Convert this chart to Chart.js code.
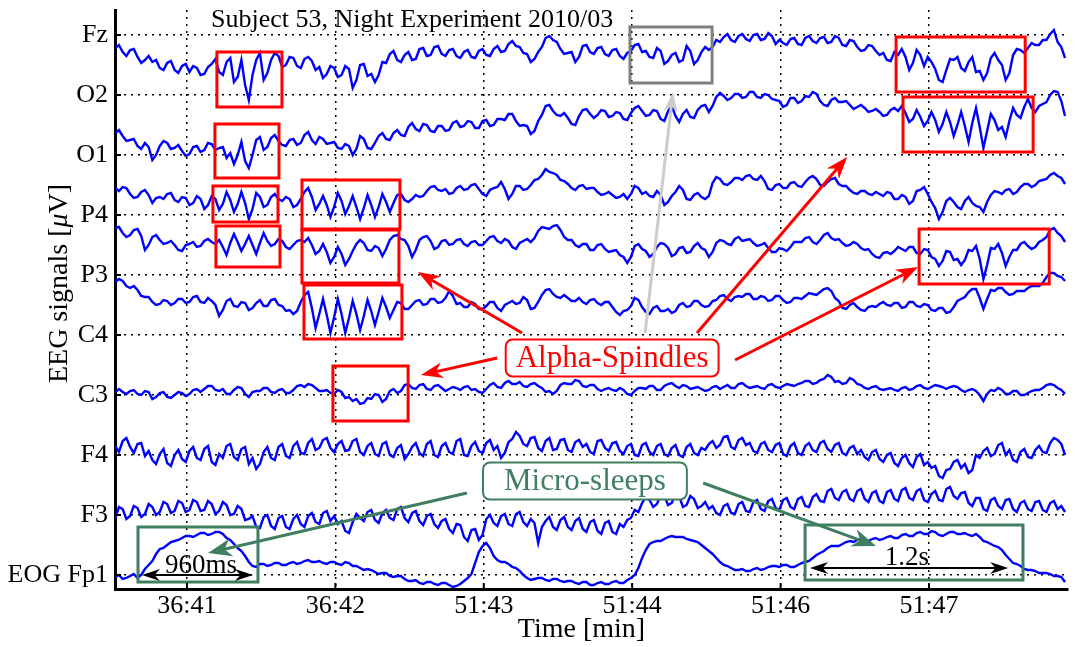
<!DOCTYPE html>
<html>
<head>
<meta charset="utf-8">
<script src="https://cdn.jsdelivr.net/npm/chart.js@4.4.0/dist/chart.umd.min.js"></script>
<style>
  html, body { margin: 0; padding: 0; background: #fff; }
</style>
</head>
<body>
<canvas id="eeg" width="1075" height="647"></canvas>
<script>
// Canais (de cima para baixo) e posição de cada um no eixo vertical
const canais = ['Fz', 'O2', 'O1', 'P4', 'P3', 'C4', 'C3', 'F4', 'F3', 'EOG Fp1'];
const posCanais = [540, 480, 420, 360, 300, 240, 180, 120, 60, 0];

// Rótulos do tempo (um a cada 60 s no eixo)
const rotulosTempo = ['36:41', '36:42', '51:43', '51:44', '51:46', '51:47'];
const posTempo = [0, 60, 120, 180, 240, 300];

// primeira amostra e passo (s)
const T0 = -29;
const DT = 1.5;

// Sinais (µV, relativos à linha de base de cada traço)
const sigFz = [7,10,3,-1,5,6,-2,-8,-5,-1, -7,-5,-13,-15,-8,-6,-15,-18,-11,-9,
  -17,-11,-13,-20,-19,-12,-9,-4,-17,-20, -7,-3,-27,-22,-5,-30,-45,-20,-5,2,
  -25,-18,-5,2,-1,-12,-10,-2,-3,-11, -13,-4,-2,-6,-15,-12,-23,-19,-11,-13,
  -22,-20,-11,-14,-33,-25,-10,-9,-21,-19, -27,-20,-7,-8,1,4,-5,-7,0,3,
  -5,-4,6,7,-1,0,8,9,1,-1, 5,6,-1,-3,3,5,-2,-3,4,6,
  0,-1,6,9,3,4,11,14,9,8, 2,1,-7,-4,3,8,17,19,15,13,
  6,1,2,3,-7,-2,9,10,3,1, 7,8,1,-1,5,6,-1,-4,2,4,
  10,11,3,4,-2,-3,7,4,-9,-6, 0,2,-7,-5,9,4,-9,-5,3,8,
  5,8,15,13,18,21,15,13,19,21, 16,14,20,21,15,16,22,19,11,15,
  12,10,16,17,11,10,17,19,14,12, 17,18,12,13,19,17,10,9,15,14,
  8,4,5,10,9,4,0,2,-5,-6, 3,0,6,-2,-15,-8,5,0,-11,-2,
  -7,-14,-25,-27,-15,-4,-5,-2,-13,-16, -7,-2,-17,-16,-25,-18,-3,2,-5,-10,
  -25,-18,0,6,5,2,7,12,10,10, 15,15,21,25,13,8,-3];
const sigO2 = [-8,-5,-11,-16,-15,-14,-21,-24,-18,-22, -35,-30,-21,-16,-18,-24,-23,-20,-26,-31,
  -29,-22,-21,-27,-25,-18,-19,-25,-23,-22, -33,-28,-39,-30,-17,-36,-43,-30,-15,-12,
  -25,-22,-13,-10,-16,-20,-21,-15,-14,-20, -18,-10,-7,-15,-19,-12,-14,-19,-18,-17,
  -23,-24,-19,-21,-30,-24,-11,-14,-23,-24, -18,-11,-8,-14,-15,-8,-5,-10,-11,-2,
  2,-4,-6,1,0,-6,-7,-1,-1,-6, -5,2,4,-2,-1,4,3,-3,-3,4,
  5,-1,0,6,6,5,11,11,4,-1, 0,-1,-9,-6,4,10,19,20,14,10,
  9,12,7,1,0,9,15,16,11,7, 10,15,14,8,9,13,12,6,5,12,
  17,19,14,9,10,15,14,6,4,14, 19,9,3,11,15,8,7,15,19,20,
  13,19,28,32,29,25,27,31,31,27, 28,33,33,28,27,31,30,26,25,24,
  18,20,27,27,22,24,29,28,33,31, 24,20,19,25,27,23,23,24,20,16,
  18,20,17,13,14,16,13,9,10,15, 17,14,19,12,3,6,15,8,-1,4,
  13,5,-7,1,13,3,-11,0,13,-1, -17,2,17,-2,-23,-6,11,5,-5,-2,
  -12,4,17,10,7,18,26,17,13,19, 21,23,30,34,33,24,9];
const sigO1 = [7,4,8,7,1,-3,-2,3,5,0, -8,-3,-2,-4,1,2,-5,-7,-2,-3,
  -10,-8,-1,-4,-14,-10,-1,-4,-15,-9, 3,-5,-17,-9,3,-8,-24,-14,2,-2,
  -12,-10,-2,1,-4,-6,-2,-4,-12,-10, -4,3,7,-2,-15,-9,-1,-10,-22,-12,
  2,-6,-19,-11,-1,-12,-24,-13,0,-10, -22,-12,1,-7,-17,-8,0,1,-5,-7,
  -4,0,-2,-1,4,8,9,5,4,6, 1,2,7,9,5,6,10,11,6,1,
  -1,5,7,8,13,6,-4,1,9,9, 5,6,10,15,16,20,26,23,22,20,
  15,14,11,7,5,9,10,6,7,7, 3,0,1,3,0,-3,-2,1,-4,1,
  9,7,1,3,-1,-2,4,0,-10,-7, -1,3,9,5,-4,-5,0,2,-2,-4,
  -1,12,18,16,11,10,13,17,17,15, 19,20,16,15,19,14,6,5,10,11,
  7,7,12,13,9,8,13,17,19,16, 10,9,13,16,17,11,9,9,5,2,
  1,4,4,1,0,3,1,-1,3,2, -4,-4,0,-2,-9,-6,4,5,8,1,
  -7,-13,-24,-17,-6,-3,-7,-12,-14,-6, -2,-8,-11,-12,-17,-7,0,4,3,1,
  5,6,1,3,8,11,11,8,10,14, 15,16,20,22,19,17,11];
const sigP4 = [17,18,12,8,10,15,16,9,-5,0, 8,10,5,1,2,4,0,-5,-6,0,
  1,3,-2,-1,4,6,3,1,5,-2, -10,2,11,3,-6,1,9,0,-9,2,
  12,4,-1,1,6,4,-2,-4,0,4, 5,3,7,0,-9,-6,1,-7,-18,-12,
  -2,-9,-20,-14,-6,1,5,2,-5,-6, -1,-3,-11,-4,5,9,10,6,5,-1,
  -12,-5,5,8,9,4,-4,-2,4,5, 0,1,5,6,1,-1,3,4,0,0,
  4,8,9,4,2,6,4,-2,-4,2, 4,6,3,7,14,18,17,16,19,20,
  15,8,5,5,0,-2,1,1,-5,-5, 0,1,-4,-7,-6,-5,-10,-12,-18,-12,
  -1,1,-4,-6,-12,-9,-2,2,1,-3, -11,-9,-3,-2,-8,-7,-1,2,-3,-5,
  -12,-7,2,5,4,1,0,6,8,4, 5,6,2,-1,0,2,-3,-7,-7,-3,
  -4,-6,-2,3,3,3,7,8,3,1, 5,10,12,7,5,6,2,-1,0,3,
  1,-3,-5,-4,-9,-12,-13,-8,-7,-9, -6,-2,-4,-6,-2,-2,-8,-9,-4,-5,
  -12,-14,-21,-16,-6,-7,-15,-14,-20,-15, -5,-6,-1,-14,-34,-20,-3,-4,1,-8,
  -21,-12,-5,-5,1,3,-1,-4,-2,3, 5,8,15,17,12,9,3];
const sigP3 = [18,21,19,14,12,14,10,4,3,3, -2,-5,-4,0,-1,-5,-3,1,1,-3,
  -2,3,4,-2,-3,2,-1,-5,-16,-10, -1,1,-6,-7,-2,-3,-10,-8,-3,0,
  -6,-6,0,1,-5,-6,-11,-10,-14,-11, -2,5,8,-8,-28,-14,1,-15,-33,-17,
  1,-14,-33,-18,-1,-14,-30,-16,0,-11, -25,-12,2,-7,-18,-10,-2,-3,-9,-9,
  -5,-1,0,-5,-4,1,1,-3,-2,2, 9,4,-4,-3,-7,-7,-2,-4,-9,-9,
  -6,-2,-2,-8,-11,-5,-3,-1,-4,-3, 3,0,-9,-8,-2,5,10,11,6,3,
  2,5,2,-1,-1,2,-2,-4,0,1, -3,-5,-2,-2,-7,-12,-15,-11,-10,-6,
  2,0,-7,-12,-14,-8,-6,-11,-11,-9, -13,-11,-5,-3,-7,-6,-1,-1,-5,-7,
  -6,-1,0,4,5,1,-1,3,4,3, 6,6,1,1,4,3,-1,0,4,4,
  0,-3,-2,2,2,1,4,7,6,5, 8,11,12,9,2,-1,-8,-9,-5,-3,
  -7,-10,-11,-7,-6,-7,-4,-2,-5,-6, -3,-3,-8,-7,-2,-2,-6,-7,-4,-5,
  -10,-11,-8,-8,-13,-12,-7,-1,1,3, 8,11,11,2,-9,1,10,9,12,12,
  8,5,6,9,9,9,12,14,14,14, 17,23,27,27,24,23,19];
const sigC3 = [3,6,3,1,4,5,1,0,4,3, -4,-2,2,3,-2,-3,0,3,2,-1,
  1,5,6,3,6,9,9,5,4,6, 1,1,5,8,7,1,-2,3,4,4,
  7,7,3,2,5,6,2,2,5,9, 10,8,11,10,7,4,4,5,2,1,
  5,3,-3,-2,-6,-4,-9,-8,-3,-4, 1,0,-7,-4,4,6,2,4,10,11,
  7,6,10,11,6,5,9,10,7,4, 6,8,7,5,8,9,5,6,3,2,
  6,10,12,8,7,12,14,11,11,13, 9,8,11,12,9,7,3,4,1,4,
  10,12,11,11,15,14,9,8,10,10, 6,4,6,7,5,4,7,5,1,0,
  4,7,7,6,9,9,5,5,9,11, 12,9,7,10,9,6,7,8,6,4,
  5,8,9,6,8,10,7,7,11,12, 9,7,8,9,7,6,10,11,8,7,
  9,11,10,9,11,12,14,14,11,12, 15,16,20,18,13,14,11,12,17,15,
  11,10,7,6,8,9,6,5,6,7, 5,4,7,8,5,6,9,10,7,6,
  8,10,9,8,6,8,9,8,5,3, 5,6,4,0,-6,1,5,4,7,5,
  1,1,4,4,0,0,2,4,5,5, 7,10,11,10,7,5,1];
const sigF4 = [4,-2,9,12,3,-3,6,7,-6,-1, -10,-14,-4,1,-13,-16,-5,0,-9,-12,
  -1,3,-8,-10,1,4,-12,-15,-4,-8, 4,6,-7,-10,1,3,-14,-8,-19,-14,
  -2,3,-8,-10,3,6,-6,-8,4,8, -3,-4,7,11,0,2,10,12,2,-2,
  6,9,-1,0,9,11,-2,-5,4,7, -4,-6,6,8,-5,-7,2,5,-9,-4,
  3,7,-3,-6,6,9,-5,-7,4,7, -2,-4,9,11,-5,-6,4,8,-1,-3,
  7,10,0,4,-8,-3,8,11,18,14, 6,4,12,13,2,-1,9,12,0,1,
  10,11,0,-2,8,10,3,6,-2,-4, 9,10,2,-1,7,8,-1,-4,4,6,
  -5,-6,5,7,-2,-5,4,6,-4,-6, 2,5,-5,-7,3,6,-3,-5,2,0,
  6,9,2,5,13,14,3,1,10,12, 5,7,-1,-3,6,8,0,-2,5,7,
  -4,-6,4,7,-3,-5,4,7,0,-2, 7,9,1,-2,5,7,-3,-5,2,4,
  -4,0,-7,-10,-2,0,-9,-12,-5,-3, -13,-16,-8,-5,-13,-17,-7,-4,-15,-12,
  -18,-16,-26,-28,-20,-19,-12,-10,-18,-14, -23,-20,-5,-8,-1,2,-6,-4,5,7,
  -5,0,-10,-12,-2,1,-7,-8,0,4, -2,-3,7,12,10,6,-5];
const sigF3 = [-3,8,6,-4,-1,9,7,-2,1,11, 8,0,3,13,11,2,4,14,12,3,
  5,15,13,4,5,14,11,1,4,13, 10,0,1,9,6,-5,-4,-1,-12,-13,
  -2,0,-11,-14,-3,-1,-12,-14,-4,0, -9,-12,-1,2,-7,-9,2,4,-6,-1,
  -9,-6,-16,-18,-7,1,-3,-6,3,5, -5,-8,2,5,-3,-5,6,8,-3,-7,
  2,4,-6,-10,-1,1,-9,-13,-6,-4, -14,-18,-9,-10,-22,-26,-15,-14,-25,-20,
  -4,0,-8,-11,-1,1,-9,-11,1,3, -7,-11,-4,-8,-28,-12,-6,-2,-12,-15,
  -5,-2,-12,-15,-6,-3,-14,-17,-7,-5, -16,-19,-8,-6,-17,-19,-9,-12,-5,-3,
  5,3,12,18,15,8,11,20,19,10, 12,21,19,8,10,19,16,7,9,13,
  6,9,2,0,9,11,2,1,11,13, 4,3,13,15,6,4,14,16,7,5,
  15,17,8,6,16,18,9,8,18,21, 14,13,24,26,17,15,23,25,16,14,
  24,26,16,13,22,24,14,12,23,25, 16,14,25,27,17,15,24,26,15,13,
  21,24,15,14,26,28,19,16,22,23, 12,9,17,17,6,4,15,17,9,6,
  15,16,6,3,12,14,6,4,13,14, 5,3,12,14,6,9,3];
const sigEOG = [-2,0,-4,-3,-1,1,-3,0,6,10, 14,21,26,27,30,33,34,35,37,39,
  39,38,40,42,42,40,41,43,43,41, 37,35,31,27,24,19,13,9,8,11,
  11,9,10,12,12,10,10,12,13,11, 12,14,15,13,13,14,12,11,13,13,
  11,10,13,12,9,9,7,5,6,5, 3,1,2,2,-1,-2,-1,-1,-4,-6,
  -6,-5,-8,-9,-7,-7,-9,-10,-8,-8, -10,-12,-11,-9,-6,-3,1,12,23,29,
  32,27,19,15,13,13,11,8,7,4, 0,-3,-5,-4,-3,-3,-5,-6,-4,-4,
  -6,-7,-6,-6,-8,-9,-7,-7,-10,-10, -8,-7,-9,-9,-7,-6,-8,-8,-5,-3,
  0,7,17,25,31,33,34,34,36,38, 39,38,38,38,36,35,34,33,30,27,
  24,21,17,13,10,9,7,5,5,6, 4,4,6,7,5,6,8,9,9,8,
  10,10,8,8,10,12,13,14,17,20, 22,24,27,29,29,29,31,33,34,33,
  35,36,34,34,36,37,35,36,38,39, 37,37,40,41,39,39,42,43,41,41,
  44,43,40,39,41,43,43,41,41,42, 40,39,41,38,34,33,31,29,28,25,
  20,16,12,11,9,6,5,5,4,2, 2,2,1,-1,-1,-2,-7];

// nome, linha de base e sinal de cada traço
const tracos = [
    { nome: 'Fz', base: 520, sinal: sigFz },
    { nome: 'O2', base: 450, sinal: sigO2 },
    { nome: 'O1', base: 380, sinal: sigO1 },
    { nome: 'P4', base: 330, sinal: sigP4 },
    { nome: 'P3', base: 275, sinal: sigP3 },
    { nome: 'C3', base: 180, sinal: sigC3 },
    { nome: 'F4', base: 125, sinal: sigF4 },
    { nome: 'F3', base: 60, sinal: sigF3 },
    { nome: 'EOG Fp1', base: 0, sinal: sigEOG }
];

const VERMELHO = '#ff0000';
const VERDE = '#3f7f5f';
const FONTE = '"Liberation Serif", "Times New Roman", serif';

// Anotações em coordenadas dos dados (tempo, µV)
const caixasAlfa = [
    [12.1, 523, 38.4, 468], [11.3, 451, 37.2, 397], [10.5, 389, 36.8, 353], [11.7, 349, 37.6, 308],
    [46.5, 395, 86.1, 346], [46.5, 345, 85.7, 292], [47.3, 290, 86.9, 236], [59.0, 209, 89.4, 154],
    [286.7, 538, 338.9, 483], [289.5, 478, 342.1, 423], [296.0, 346, 348.6, 291]
];
const caixaCinza = [179.1, 548, 212.3, 492];
const caixasSono = [[-19.8, 48, 28.7, -7], [249.9, 50, 338.0, -5]];
const setasAlfa = [
    [[135.5, 242], [93.4, 303]], [[125.4, 217], [94.6, 200]],
    [[206.2, 242], [266.9, 418]], [[221.6, 215], [295.6, 308]]
];
const setaCinza = [[185.2, 242], [196.5, 483]];
const setasSono = [[[113.2, 82], [8.5, 22]], [[208.7, 92], [278.6, 29]]];
const duracoes = [
    { de: -18.2, ate: 26.7, v: 0, texto: '960ms', tx: 5.7, tv: 9 },
    { de: 251.9, ate: 332.0, v: 7, texto: '1.2s', tx: 291.1, tv: 17 }
];
const rotulos = [
    { texto: 'Alpha-Spindles', t: 171.9, v: 217, cor: VERMELHO, padX: 10 },
    { texto: 'Micro-sleeps', t: 160.9, v: 94, cor: VERDE, padX: 21 }
];

function ponta(ctx, xa, ya, xb, yb, comp, larg) {
    const ang = Math.atan2(yb - ya, xb - xa);
    const c = Math.cos(ang), s = Math.sin(ang);
    ctx.beginPath();
    ctx.moveTo(xb, yb);
    ctx.lineTo(xb - comp * c + larg * s, yb - comp * s - larg * c);
    ctx.lineTo(xb - comp * 0.7 * c, yb - comp * 0.7 * s);
    ctx.lineTo(xb - comp * c - larg * s, yb - comp * s + larg * c);
    ctx.closePath();
    ctx.fill();
}

function seta(ctx, a, b, cor, lw, comp, larg, dupla) {
    ctx.strokeStyle = cor;
    ctx.fillStyle = cor;
    ctx.lineWidth = lw;
    const ang = Math.atan2(b[1] - a[1], b[0] - a[0]);
    const recuo = comp * 0.6;
    const ini = dupla ? [a[0] + recuo * Math.cos(ang), a[1] + recuo * Math.sin(ang)] : a;
    ctx.beginPath();
    ctx.moveTo(ini[0], ini[1]);
    ctx.lineTo(b[0] - recuo * Math.cos(ang), b[1] - recuo * Math.sin(ang));
    ctx.stroke();
    ponta(ctx, a[0], a[1], b[0], b[1], comp, larg);
    if (dupla) ponta(ctx, b[0], b[1], a[0], a[1], comp, larg);
}

function caixaArredondada(ctx, x, y, w, h, r) {
    ctx.beginPath();
    ctx.moveTo(x + r, y);
    ctx.arcTo(x + w, y, x + w, y + h, r);
    ctx.arcTo(x + w, y + h, x, y + h, r);
    ctx.arcTo(x, y + h, x, y, r);
    ctx.arcTo(x, y, x + w, y, r);
    ctx.closePath();
}

const anotacoes = {
    id: 'anotacoes',
    afterDatasetsDraw(chart) {
        const { ctx, scales: { x, y } } = chart;
        const p = (pt) => [x.getPixelForValue(pt[0]), y.getPixelForValue(pt[1])];
        const ret = (r, cor, lw) => {
            const a = p([r[0], r[1]]), b = p([r[2], r[3]]);
            ctx.strokeStyle = cor;
            ctx.lineWidth = lw;
            ctx.strokeRect(a[0], a[1], b[0] - a[0], b[1] - a[1]);
        };
        ctx.save();
        caixasAlfa.forEach(r => ret(r, VERMELHO, 3));
        ret(caixaCinza, '#808080', 3);
        caixasSono.forEach(r => ret(r, VERDE, 3));

        // setas
        seta(ctx, p(setaCinza[0]), p(setaCinza[1]), '#cccccc', 3, 20, 7, false);
        setasAlfa.forEach(s => seta(ctx, p(s[0]), p(s[1]), VERMELHO, 3, 22, 8, false));
        setasSono.forEach(s => seta(ctx, p(s[0]), p(s[1]), VERDE, 3, 24, 9, false));

        // durações dos micro-sono
        duracoes.forEach(d => {
            seta(ctx, p([d.de, d.v]), p([d.ate, d.v]), '#000', 2, 18, 6, true);
            const c = p([d.tx, d.tv]);
            ctx.fillStyle = '#000';
            ctx.font = '27px ' + FONTE;
            ctx.textAlign = 'center';
            ctx.textBaseline = 'middle';
            ctx.fillText(d.texto, c[0], c[1]);
        });

        // caixas de texto
        rotulos.forEach(r => {
            const c = p([r.t, r.v]);
            ctx.font = '31px ' + FONTE;
            const w = ctx.measureText(r.texto).width + 2 * r.padX;
            const h = 37;
            caixaArredondada(ctx, c[0] - w / 2, c[1] - h / 2, w, h, 7);
            ctx.fillStyle = '#fff';
            ctx.fill();
            ctx.lineWidth = 2;
            ctx.strokeStyle = r.cor;
            ctx.stroke();
            ctx.fillStyle = r.cor;
            ctx.textAlign = 'center';
            ctx.textBaseline = 'middle';
            ctx.fillText(r.texto, c[0], c[1] + 1);
        });
        ctx.restore();
    },
    afterDraw(chart) {
        const { ctx, chartArea: area, scales: { x, y } } = chart;
        ctx.save();
        // marcas dos ticks para dentro
        ctx.strokeStyle = '#000';
        ctx.lineWidth = 2;
        ctx.beginPath();
        posCanais.forEach(v => {
            const py = y.getPixelForValue(v);
            ctx.moveTo(area.left, py);
            ctx.lineTo(area.left + 6, py);
        });
        posTempo.forEach(v => {
            const px = x.getPixelForValue(v);
            ctx.moveTo(px, area.bottom);
            ctx.lineTo(px, area.bottom - 6);
        });
        ctx.stroke();

        // título dentro do gráfico
        ctx.fillStyle = '#000';
        ctx.font = '26px ' + FONTE;
        ctx.textAlign = 'center';
        ctx.textBaseline = 'alphabetic';
        ctx.fillText('Subject 53, Night Experiment 2010/03', x.getPixelForValue(91), area.top + 17);

        // título do eixo x
        ctx.font = '28px ' + FONTE;
        ctx.textBaseline = 'middle';
        ctx.fillText('Time [min]', (area.left + area.right) / 2 - 10, area.bottom + 41);

        // título do eixo y (µ em itálico)
        ctx.translate(area.left - 55, (area.top + area.bottom) / 2 - 16);
        ctx.rotate(-Math.PI / 2);
        const partes = [['EEG signals [', ''], ['\u03bc', 'italic '], ['V]', '']];
        let total = 0;
        partes.forEach(pt => {
            ctx.font = pt[1] + '28px ' + FONTE;
            total += ctx.measureText(pt[0]).width;
        });
        let xx = -total / 2;
        ctx.textAlign = 'left';
        partes.forEach(pt => {
            ctx.font = pt[1] + '28px ' + FONTE;
            ctx.fillText(pt[0], xx, 0);
            xx += ctx.measureText(pt[0]).width;
        });
        ctx.restore();
    }
};

Chart.defaults.font.family = FONTE;
Chart.defaults.color = '#000';

new Chart(document.getElementById('eeg'), {
    type: 'line',
    data: {
        datasets: tracos.map(tr => ({
            label: tr.nome,
            data: tr.sinal.map((v, i) => ({ x: T0 + i * DT, y: tr.base + v })),
            borderColor: '#0000ff',
            borderWidth: 2.4,
            pointRadius: 0,
            tension: 0,
            fill: false
        }))
    },
    options: {
        responsive: false,
        animation: false,
        layout: { padding: { left: 0, right: 7, top: 10, bottom: 0 } },
        plugins: {
            legend: { display: false },
            tooltip: { enabled: false }
        },
        scales: {
            x: {
                type: 'linear',
                min: -29.1,
                max: 356.2,
                afterBuildTicks: s => { s.ticks = posTempo.map(v => ({ value: v })); },
                afterFit: s => { s.height = 58; s.paddingLeft = 0; s.paddingRight = 0; },
                ticks: {
                    callback: (v, i) => rotulosTempo[i],
                    font: { size: 26 },
                    padding: 2,
                    maxRotation: 0,
                    autoSkip: false
                },
                grid: { color: '#000', lineWidth: 1.5, drawTicks: false },
                border: { color: '#000', width: 3, dash: [2, 5] }
            },
            y: {
                type: 'linear',
                min: -14,
                max: 565,
                afterBuildTicks: s => { s.ticks = posCanais.slice().reverse().map(v => ({ value: v })); },
                afterFit: s => { s.width = 115; s.paddingTop = 0; s.paddingBottom = 0; },
                ticks: {
                    callback: (v, i) => canais.slice().reverse()[i],
                    font: { size: 26 },
                    padding: 7,
                    autoSkip: false
                },
                grid: { color: '#000', lineWidth: 1.5, drawTicks: false },
                border: { color: '#000', width: 3, dash: [2, 5] }
            }
        }
    },
    plugins: [anotacoes]
});
</script>
</body>
</html>
